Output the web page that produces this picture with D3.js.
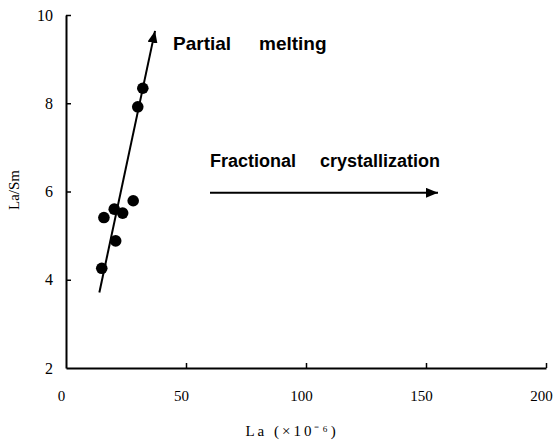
<!DOCTYPE html>
<html>
<head>
<meta charset="utf-8">
<script src="https://cdn.jsdelivr.net/npm/d3@7"></script>
<style>
  html, body { margin: 0; padding: 0; background: #fff; }
  svg { display: block; }
</style>
</head>
<body>
<svg id="chart" width="554" height="441"></svg>
<script>
// ---- data ----
const laValues    = [32.0, 29.9, 28.0, 15.8, 20.1, 23.6, 20.7, 14.9];
const laSmValues  = [8.34, 7.92, 5.79, 5.41, 5.60, 5.51, 4.88, 4.26];
const xTicks = [0, 50, 100, 150, 200];
const yTicks = [2, 4, 6, 8, 10];
const trendLa    = [13.9, 37.1];
const trendRatio = [3.71, 9.64];
const fcLa    = [60, 155];
const fcRatio = [5.97, 5.97];

const svg = d3.select("#chart");
const x = d3.scaleLinear().domain([0, 200]).range([66, 546]);
const y = d3.scaleLinear().domain([2, 10]).range([368, 15]);

const serif = "'Liberation Serif', 'Times New Roman', serif";
const sans = "'Liberation Sans', Arial, Helvetica, sans-serif";

// arrow marker
const defs = svg.append("defs");
defs.append("marker")
  .attr("id", "arrow")
  .attr("viewBox", "0 0 12 10")
  .attr("refX", 12).attr("refY", 5)
  .attr("markerWidth", 12).attr("markerHeight", 10)
  .attr("markerUnits", "userSpaceOnUse")
  .attr("orient", "auto")
  .append("path").attr("d", "M0,0 L12,5 L0,10 Z").attr("fill", "#000");

// axes
const xAxis = d3.axisBottom(x).tickValues(xTicks).tickSize(-5).tickPadding(22).tickSizeOuter(0);
const yAxis = d3.axisLeft(y).tickValues(yTicks).tickSize(-5).tickPadding(13).tickSizeOuter(0);

const gx = svg.append("g").attr("transform", `translate(0,${y(2)})`).call(xAxis);
const gy = svg.append("g").attr("transform", `translate(${x(0)},0)`).call(yAxis);
[gx, gy].forEach(g => {
  g.select(".domain").attr("stroke", "#000").attr("stroke-width", 2);
  g.selectAll(".tick line").attr("stroke", "#000").attr("stroke-width", 1.5);
  g.selectAll(".tick text").attr("fill", "#000").style("font-family", serif).style("font-size", "15px");
});
gx.selectAll(".tick text").attr("dx", -5);
gx.selectAll(".tick").filter(d => d === 0).select("line").remove();
gy.selectAll(".tick").filter(d => d === 2).select("line").remove();
gy.selectAll(".tick text").style("font-size", "16px");

// axis titles
svg.append("text")
  .attr("x", 292).attr("y", 436)
  .attr("text-anchor", "middle")
  .style("font-family", serif).style("font-size", "15px")
  .style("letter-spacing", "3px")
  .attr("fill", "#000")
  .text("La (×10⁻⁶)");

svg.append("text")
  .attr("transform", `translate(19,190) rotate(-90)`)
  .attr("text-anchor", "middle")
  .style("font-family", serif).style("font-size", "15px")
  .attr("fill", "#000")
  .text("La/Sm");

// trend line with arrow
svg.append("line")
  .attr("x1", x(trendLa[0])).attr("y1", y(trendRatio[0]))
  .attr("x2", x(trendLa[1])).attr("y2", y(trendRatio[1]))
  .attr("stroke", "#000").attr("stroke-width", 2)
  .attr("marker-end", "url(#arrow)");

// fractional crystallization arrow
svg.append("line")
  .attr("x1", x(fcLa[0])).attr("y1", y(fcRatio[0]))
  .attr("x2", x(fcLa[1])).attr("y2", y(fcRatio[1]))
  .attr("stroke", "#000").attr("stroke-width", 2)
  .attr("marker-end", "url(#arrow)");

// points
svg.append("g").selectAll("circle")
  .data(laValues.map((v, i) => [v, laSmValues[i]]))
  .join("circle")
  .attr("cx", d => x(d[0])).attr("cy", d => y(d[1]))
  .attr("r", 5.8).attr("fill", "#000");

// annotations
const ann = (txt, px, py, size) => svg.append("text")
  .attr("x", px).attr("y", py)
  .style("font-family", sans).style("font-size", size + "px").style("font-weight", "bold")
  .attr("fill", "#000").text(txt);
ann("Partial", 173, 50, 19);
ann("melting", 259, 50, 19);
ann("Fractional", 210, 167, 18);
ann("crystallization", 320, 167, 18);
</script>
</body>
</html>
